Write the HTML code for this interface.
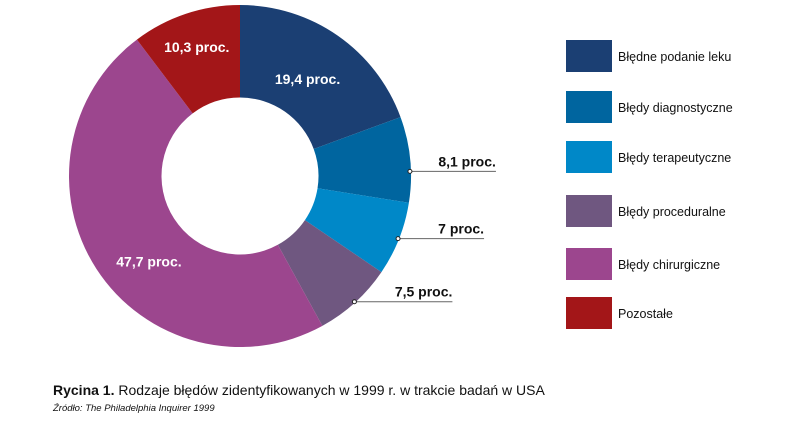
<!DOCTYPE html>
<html><head><meta charset="utf-8"><style>
body{margin:0;background:#fff;width:800px;height:416px;overflow:hidden;font-family:"Liberation Sans",sans-serif}
</style></head><body>
<svg width="800" height="416" xmlns="http://www.w3.org/2000/svg">
<g id="slices"></g>
<g id="callouts"></g>
<g id="legend"></g>
<text x="53" y="395" font-size="14" fill="#111"><tspan font-weight="bold">Rycina 1.</tspan> Rodzaje błędów zidentyfikowanych w 1999 r. w trakcie badań w USA</text>
<text x="53" y="411" font-size="9.5" font-style="italic" fill="#111">Źródło: The Philadelphia Inquirer 1999</text>
</svg>
<script>
const categories=["Błędne podanie leku","Błędy diagnostyczne","Błędy terapeutyczne","Błędy proceduralne","Błędy chirurgiczne","Pozostałe"];
const values=[19.4,8.1,7,7.5,47.7,10.3];
const valueLabels=["19,4 proc.","8,1 proc.","7 proc.","7,5 proc.","47,7 proc.","10,3 proc."];
const colors=["#1b3f73","#00659f","#0088c8","#6f5780","#9c468e","#a31618"];
const outside=[false,true,true,true,false,false];
const NS="http://www.w3.org/2000/svg";
const cx=240,cy=176,R=171,r=78.5;
const labelRad=[118,0,0,0,125,136];
const labelShift=[0,0.07,0,0,-0.18,0];
const total=values.reduce((a,b)=>a+b,0);
function ang(v){return v/total*2*Math.PI;}
function pt(a,rad){return [cx+rad*Math.sin(a),cy-rad*Math.cos(a)];}
const gS=document.getElementById('slices'),gC=document.getElementById('callouts'),gL=document.getElementById('legend');
function mk(tag,attrs,parent){const e=document.createElementNS(NS,tag);for(const k in attrs)e.setAttribute(k,attrs[k]);parent.appendChild(e);return e;}
let a0=0;
values.forEach((v,i)=>{
  const a1=a0+ang(v),large=(a1-a0)>Math.PI?1:0;
  const p1=pt(a0,R),p2=pt(a1,R),p3=pt(a1,r),p4=pt(a0,r);
  const p=mk('path',{d:`M${p1}A${R},${R} 0 ${large} 1 ${p2}L${p3}A${r},${r} 0 ${large} 0 ${p4}Z`,fill:colors[i]},gS);
  
  
  const mid=(a0+a1)/2+labelShift[i];
  if(!outside[i]){
    const lp=pt(mid,labelRad[i]);
    const t=mk('text',{x:lp[0],y:lp[1]+5,'text-anchor':'middle','font-size':14,'font-weight':'bold',fill:'#fff'},gC);
    t.textContent=valueLabels[i];
    
    
  }else{
    const d=pt(mid,R-1);
    const len=i==3?98:86;
    const ln=mk('line',{x1:d[0],y1:d[1],x2:d[0]+len,y2:d[1],stroke:'#666','stroke-width':1},gC);
    
    
    const c=mk('circle',{cx:d[0],cy:d[1],r:2,fill:'#fff',stroke:'#222','stroke-width':1},gC);
    
    
    const t=mk('text',{x:d[0]+len,y:d[1]-5,'text-anchor':'end','font-size':14,'font-weight':'bold',fill:'#111'},gC);
    t.textContent=valueLabels[i];
    
    
  }
  a0=a1;
});
const legY=[40,91,141,195,248,297];
categories.forEach((c,i)=>{
  const g=mk('g',{},gL);
  
  
  mk('rect',{x:566,y:legY[i],width:46,height:32,fill:colors[i]},g);
  const t=mk('text',{x:618,y:legY[i]+21,'font-size':12.5,fill:'#111'},g);
  t.textContent=c;
});
</script>
</body></html>
